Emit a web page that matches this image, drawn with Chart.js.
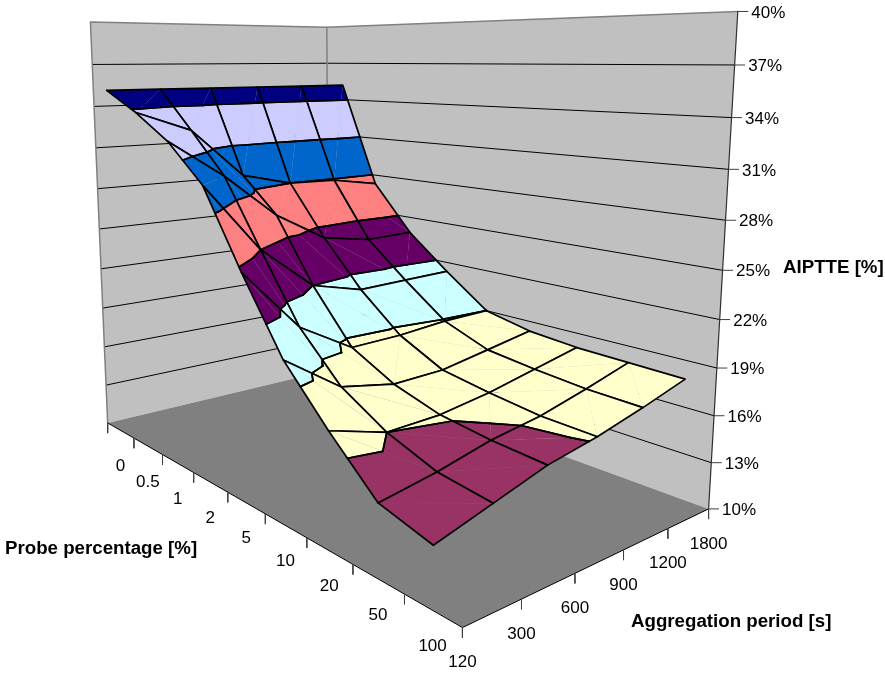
<!DOCTYPE html>
<html>
<head>
<meta charset="utf-8">
<script src="https://cdn.jsdelivr.net/npm/chart.js@4"></script>
<style>body{margin:0;background:#fff}canvas{display:block}</style>
</head>
<body>
<canvas id="myChart" width="885" height="673"></canvas>
<script>
// Chart data
var probes = ["0", "0.5", "1", "2", "5", "10", "20", "50", "100"];
var periods = ["120", "300", "600", "900", "1200", "1800"];
var valueTicks = [10, 13, 16, 19, 22, 25, 28, 31, 34, 37, 40];
var bandColors = ["#9999FF", "#993366", "#FFFFCC", "#CCFFFF", "#660066", "#FF8080", "#0066CC", "#CCCCFF", "#000080"];
// one row per probe percentage, one value per aggregation period
var aiptte = [
  [35.2, 35.2, 35.2, 35.2, 35.2, 35.2],
  [33.8, 32.4, 28.9, 28.0, 27.9, 27.3],
  [32.1, 29.5, 26.4, 24.3, 23.7, 23.8],
  [29.6, 25.0, 22.0, 21.1, 21.2, 21.3],
  [24.7, 20.6, 18.5, 18.6, 18.9, 19.0],
  [20.2, 17.7, 17.0, 17.1, 17.7, 18.3],
  [17.1, 16.0, 16.1, 16.6, 17.3, 18.0],
  [14.3, 14.9, 15.7, 16.2, 17.0, 17.9],
  [13.5, 14.5, 15.5, 16.1, 16.9, 17.8],
];

// perspective of the box: u = probe axis, v = period axis, w = height, all 0..1
var camera = [
  [188.184, 276.324, -22.9855, 107.688],
  [-21.4512, 9.43108, -402.403, 422.965],
  [-0.360229, 0.167752, -0.0631309, 1],
];
function project(u, v, w) {
  var c = camera;
  var d = c[2][0] * u + c[2][1] * v + c[2][2] * w + c[2][3];
  return {
    x: (c[0][0] * u + c[0][1] * v + c[0][2] * w + c[0][3]) / d,
    y: (c[1][0] * u + c[1][1] * v + c[1][2] * w + c[1][3]) / d,
  };
}
var zMin = valueTicks[0], zMax = valueTicks[valueTicks.length - 1];
function level(z) { return (z - zMin) / (zMax - zMin); }

var layers = [];
function poly(points, fillColor) {
  layers.push({ data: points, showLine: true, fill: "shape", backgroundColor: fillColor, borderWidth: 0, borderColor: fillColor, pointRadius: 0, clip: false });
}
function line(points, color, width) {
  layers.push({ data: points, showLine: true, fill: false, borderColor: color, borderWidth: width, pointRadius: 0, clip: false, borderCapStyle: "round", borderJoinStyle: "round" });
}
function shifted(p, dx, dy) { return { x: p.x + dx, y: p.y + dy }; }

// walls and floor
poly([project(0, 0, 0), project(0, 1, 0), project(0, 1, 1), project(0, 0, 1), project(0, 0, 0)], "#C0C0C0");
poly([project(0, 1, 0), project(1, 1, 0), project(1, 1, 1), project(0, 1, 1), project(0, 1, 0)], "#C0C0C0");
poly([project(0, 0, 0), project(1, 0, 0), project(1, 1, 0), project(0, 1, 0), project(0, 0, 0)], "#808080");
valueTicks.slice(1, -1).forEach(function (z) {
  var w = level(z);
  line([project(0, 0, w), project(0, 1, w), project(1, 1, w)], "#000000", 1);
});
line([project(0, 0, 0), project(0, 0, 1), project(0, 1, 1), project(1, 1, 1)], "#808080", 1.5);
line([project(0, 1, 0), project(0, 1, 1)], "#808080", 1.5);
line([project(0, 0, 0), project(1, 0, 0), project(1, 1, 0)], "#000000", 1);
line([project(1, 1, 0), project(1, 1, 1)], "#303030", 1.2);

// ticks
for (var i = 0; i <= probes.length; i++) {
  var t = project(i / probes.length, 0, 0);
  line([t, shifted(t, 0, 10)], "#404040", 1);
}
periods.forEach(function (p, j) {
  var t = project(1, j / (periods.length - 1), 0);
  line([t, shifted(t, 0, 10)], "#404040", 1);
});
valueTicks.forEach(function (z) {
  var t = project(1, 1, level(z));
  line([t, shifted(t, 10, 0)], "#404040", 1);
});

// surface, cut into colour bands, back cells first
function node(i, j) {
  return { u: (i + 0.5) / probes.length, v: j / (periods.length - 1), z: aiptte[i][j] };
}
function cut(points, h, keepAbove) {
  var out = [];
  points.forEach(function (a, k) {
    var b = points[(k + 1) % points.length];
    var aIn = keepAbove ? a.z >= h : a.z <= h;
    var bIn = keepAbove ? b.z >= h : b.z <= h;
    if (aIn) out.push(a);
    if (aIn != bIn) {
      var s = (h - a.z) / (b.z - a.z);
      out.push({ u: a.u + s * (b.u - a.u), v: a.v + s * (b.v - a.v), z: h });
    }
  });
  return out;
}
function toPage(n) { return project(n.u, n.v, level(n.z)); }

for (var r = 0; r < probes.length - 1; r++) {
  for (var c = periods.length - 2; c >= 0; c--) {
    var a = node(r, c), b = node(r, c + 1), d = node(r + 1, c), e = node(r + 1, c + 1);
    var contours = [];
    // each cell folds along its higher diagonal
    var tris = a.z + e.z > b.z + d.z ? [[a, b, e], [a, e, d]] : [[a, b, d], [b, e, d]];
    tris.forEach(function (tri) {
      bandColors.forEach(function (color, k) {
        var lo = valueTicks[k], hi = valueTicks[k + 1];
        var piece = cut(cut(tri, lo, true), hi, false);
        if (piece.length < 3) return;
        poly(piece.concat([piece[0]]).map(toPage), color);
        piece.forEach(function (p, m) {
          var q = piece[(m + 1) % piece.length];
          if (p.z == q.z && (p.z == lo || p.z == hi)) contours.push([toPage(p), toPage(q)]);
        });
      });
    });
    contours.forEach(function (seg) { line(seg, "#000000", 1.7); });
    line([a, b, e, d, a].map(toPage), "#000000", 1.7);
  }
}

var labelPlugin = {
  id: "labels",
  afterDraw: function (chart) {
    var ctx = chart.ctx, sx = chart.scales.x, sy = chart.scales.y;
    function put(text, p, dx, dy, align, font) {
      ctx.font = font;
      ctx.textAlign = align;
      ctx.textBaseline = "middle";
      ctx.fillStyle = "#000000";
      ctx.fillText(text, sx.getPixelForValue(p.x) + dx, sy.getPixelForValue(p.y) + dy);
    }
    var tickFont = "17px 'Liberation Sans'", titleFont = "bold 18.7px 'Liberation Sans'";
    probes.forEach(function (t, i) { put(t, project((i + 0.5) / probes.length, 0, 0), 0, 36, "center", tickFont); });
    periods.forEach(function (t, j) { put(t, project(1, j / (periods.length - 1), 0), 0, 35, "center", tickFont); });
    valueTicks.forEach(function (z) { put(z + "%", project(1, 1, level(z)), 13.5, 1.5, "left", tickFont); });
    put("Probe percentage [%]", { x: 5, y: 549 }, 0, 0, "left", titleFont);
    put("Aggregation period [s]", { x: 631, y: 622 }, 0, 0, "left", titleFont);
    put("AIPTTE [%]", { x: 783, y: 268 }, 0, 0, "left", titleFont);
  },
};

var ctx = document.getElementById("myChart").getContext("2d");
var myChart = new Chart(ctx, {
  type: "scatter",
  data: { datasets: layers.reverse() },
  options: {
    responsive: false,
    animation: false,
    events: [],
    layout: { padding: 0 },
    elements: { line: { tension: 0 } },
    plugins: { legend: { display: false }, tooltip: { enabled: false } },
    scales: {
      x: { type: "linear", display: false, min: 0, max: 885 },
      y: { type: "linear", display: false, min: 0, max: 673, reverse: true },
    },
  },
  plugins: [labelPlugin],
});
</script>
</body>
</html>
